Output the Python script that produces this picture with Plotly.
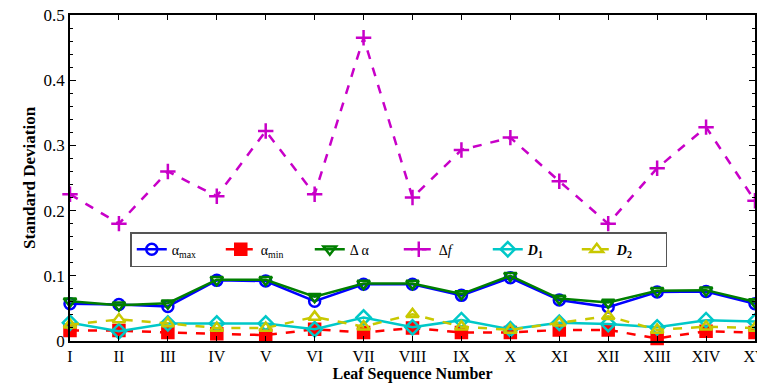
import plotly.graph_objects as go

leaves = ["I","II","III","IV","V","VI","VII","VIII","IX","X","XI","XII","XIII","XIV","XV"]
alpha_max = [0.057,0.056,0.053,0.093,0.092,0.061,0.087,0.087,0.070,0.097,0.063,0.052,0.075,0.076,0.057]
alpha_min = [0.016,0.016,0.013,0.011,0.009,0.018,0.013,0.020,0.013,0.013,0.017,0.017,0.004,0.015,0.013]
delta_alpha = [0.061,0.055,0.058,0.094,0.094,0.068,0.088,0.088,0.072,0.100,0.065,0.059,0.077,0.078,0.060]
delta_f = [0.225,0.180,0.260,0.222,0.322,0.225,0.465,0.220,0.293,0.312,0.245,0.180,0.265,0.328,0.215]
d1 = [0.028,0.015,0.027,0.027,0.027,0.018,0.036,0.021,0.032,0.018,0.028,0.026,0.021,0.032,0.030]
d2 = [0.025,0.033,0.027,0.020,0.020,0.037,0.022,0.041,0.022,0.017,0.028,0.038,0.017,0.022,0.020]

series = [
    (alpha_max, "α<sub>max</sub>", "#0000FF", "solid", "circle-open"),
    (alpha_min, "α<sub>min</sub>", "#FF0000", "dash", "square"),
    (delta_alpha, "Δ α", "#007F00", "solid", "triangle-down-open"),
    (delta_f, "Δ<i>f</i>", "#C800C8", "dash", "cross-thin-open"),
    (d1, "<b><i>D</i><sub>1</sub></b>", "#00C8C8", "solid", "diamond-open"),
    (d2, "<b><i>D</i><sub>2</sub></b>", "#C8C800", "dash", "triangle-up-open"),
]

x = list(range(1, len(leaves) + 1))
fig = go.Figure()
for vals, name, color, dash, sym in series:
    fig.add_trace(go.Scatter(
        x=x, y=vals, name=name, mode="lines+markers",
        line=dict(color=color, width=2.5, dash=dash),
        marker=dict(symbol=sym, size=11, color=color, line=dict(color=color, width=2.5)),
        cliponaxis=False,
    ))

fig.update_layout(
    width=757, height=375,
    margin=dict(l=62, r=10, t=7, b=42),
    paper_bgcolor="white", plot_bgcolor="white",
    font=dict(family="Liberation Serif", size=17, color="black"),
    showlegend=True,
    legend=dict(orientation="h", x=0.088, y=0.334, xanchor="left", yanchor="top",
                bordercolor="#555", borderwidth=1.5, bgcolor="white",
                font=dict(size=14), entrywidth=44, entrywidthmode="pixels",
                tracegroupgap=0),
    xaxis=dict(
        range=[1, 15], tickmode="array", tickvals=x, ticktext=leaves,
        showline=True, linecolor="black", linewidth=1.5, mirror="ticks",
        ticks="inside", ticklen=5, tickcolor="black", showgrid=False, zeroline=False,
        automargin=False, ticklabeloverflow="allow", tickfont=dict(size=16),
        title=dict(text="<b>Leaf Sequence Number</b>", font=dict(size=16), standoff=6),
    ),
    yaxis=dict(
        range=[0, 0.5], tickvals=[0, 0.1, 0.2, 0.3, 0.4, 0.5],
        ticktext=["0", "0.1", "0.2", "0.3", "0.4", "0.5"],
        showline=True, linecolor="black", linewidth=1.5, mirror="ticks",
        ticks="inside", ticklen=6, tickcolor="black", showgrid=False, zeroline=False,
        automargin=False, ticklabeloverflow="allow",
        minor=dict(ticks="inside", ticklen=3, dtick=0.02, tickcolor="black"),
        title=dict(text="<b>Standard Deviation</b>", font=dict(size=17), standoff=4),
    ),
)

fig.write_html("out.html")
